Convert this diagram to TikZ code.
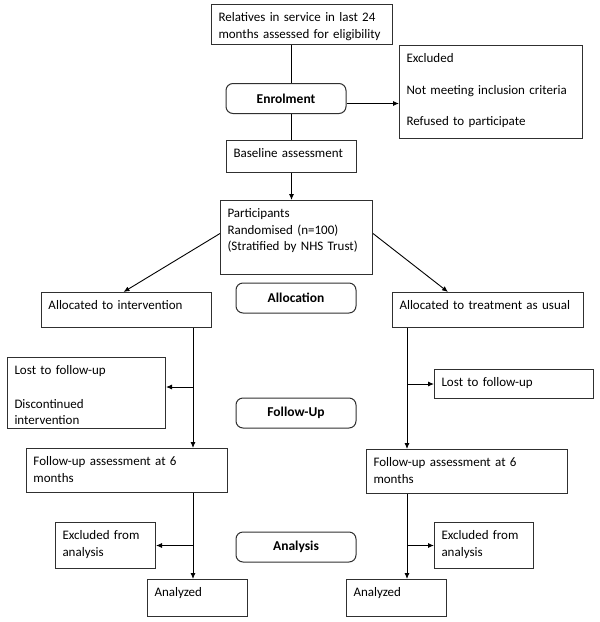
\documentclass[tikz,border=0pt]{standalone}
\usepackage{fontspec}
\setmainfont{Carlito}
\usetikzlibrary{arrows.meta}
\definecolor{frame}{HTML}{303030}
\tikzset{
  box/.style={draw=frame, line width=1pt, anchor=north west, align=left,
    inner xsep=7pt, inner ysep=4pt, text height=13pt,
    font=\fontsize{13}{16.5}\selectfont},
  stage/.style={draw=frame, line width=1pt, rounded corners=7pt,
    minimum width=120pt, minimum height=30pt, inner sep=0pt,
    font=\fontsize{13.5}{15}\selectfont\bfseries},
  flow/.style={draw=black, line width=0.9pt},
  arr/.style={flow, -{Latex[length=6pt,width=5pt]}}
}

\begin{document}
\begin{tikzpicture}[x=1pt, y=-1pt]
  \useasboundingbox (0,0) rectangle (600,622);

  % enrolment
  \node[box, text width=167pt, text depth=19pt] (elig) at (211,4)
    {Relatives in service in last 24\\months assessed for eligibility};
  \node[stage] (enrol) at (286,98.5) {Enrolment};
  \node[box, text width=169pt, text depth=72pt] (excl) at (399,45)
    {Excluded\\[15pt]Not meeting inclusion criteria\\[15pt]Refused to participate};
  \node[box, text width=116pt, text depth=11pt] (base) at (226,140) {Baseline assessment};
  \node[box, text width=138pt, text depth=53pt] (rand) at (220,200)
    {Participants\\Randomised (n=100)\\(Stratified by NHS Trust)};

  % allocation
  \node[stage] (alloc) at (296,298) {Allocation};
  \node[box, text width=156pt, text depth=14pt] (allocI) at (41,292) {Allocated to intervention};
  \node[box, text width=177pt, text depth=14pt] (allocT) at (392,292) {Allocated to treatment as usual};

  % follow-up
  \node[stage] (follow) at (296,413) {Follow-Up};
  \node[box, text width=144pt, text depth=50pt] (lostI) at (7,357)
    {Lost to follow-up\\[17pt]Discontinued\\intervention};
  \node[box, text width=145pt, text depth=8pt] (lostT) at (434,369) {Lost to follow-up};
  \node[box, text width=187pt, text depth=23pt] (fuI) at (26,448)
    {Follow-up assessment at 6\\months};
  \node[box, text width=187pt, text depth=23pt] (fuT) at (366,449)
    {Follow-up assessment at 6\\months};

  % analysis
  \node[stage] (analysis) at (296,547) {Analysis};
  \node[box, text width=86pt, text depth=25pt] (exI) at (55,522) {Excluded from\\analysis};
  \node[box, text width=85pt, text depth=25pt] (exT) at (434,522) {Excluded from\\analysis};
  \node[box, text width=86pt, text depth=16pt] (anI) at (147,579) {Analyzed};
  \node[box, text width=86pt, text depth=16pt] (anT) at (346,579) {Analyzed};

  \draw[flow] (base.north |- elig.south) -- (base.north |- enrol.north);
  \draw[flow] (base.north |- enrol.south) -- (base.north);
  \draw[arr] ([yshift=-5pt]enrol.east) -- ([yshift=-5pt]enrol.east -| excl.west);
  \draw[arr] (base.south) -- (base.south |- rand.north);
  \draw[arr] ([yshift=4pt]rand.west) -- ([xshift=-3pt]allocI.north);
  \draw[arr] ([yshift=4pt]rand.east) -- ([xshift=-40pt]allocT.north);

  \coordinate (spineI) at ([xshift=-19pt]allocI.south east);
  \coordinate (spineT) at ([xshift=15pt]allocT.south west);
  \draw[arr] (spineI) -- (spineI |- fuI.north);
  \draw[arr] (spineI |- lostI.east) ++(0,-6) -- ([yshift=6pt]lostI.east);
  \draw[arr] (spineT) -- (spineT |- fuT.north);
  \draw[arr] (spineT |- lostT.west) -- (lostT.west);

  \draw[arr] (spineI |- fuI.south) -- (spineI |- anI.north);
  \draw[arr] (spineI |- exI.east) -- (exI.east);
  \draw[arr] (spineT |- fuT.south) -- (spineT |- anT.north);
  \draw[arr] (spineT |- exT.west) -- (exT.west);
\end{tikzpicture}
\end{document}
